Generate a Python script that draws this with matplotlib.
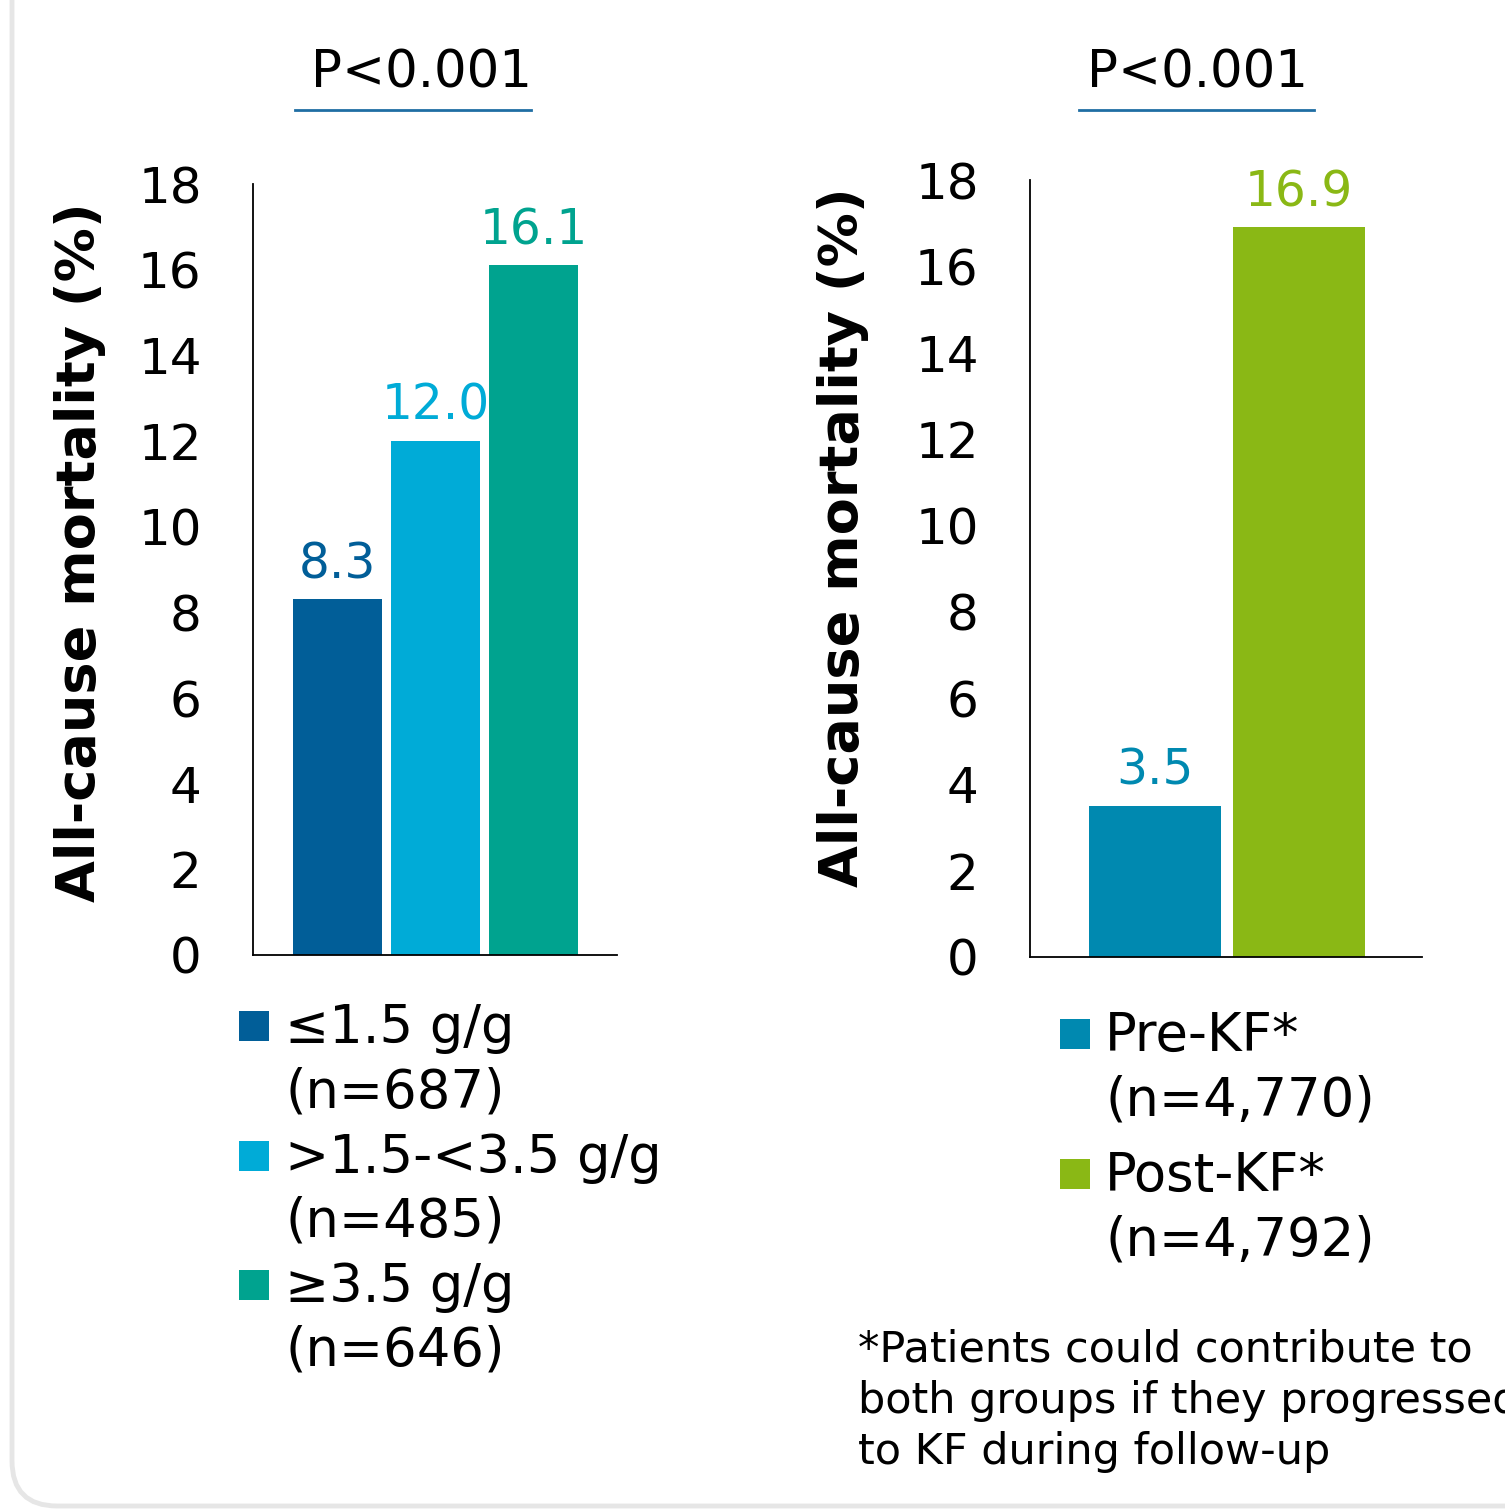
import matplotlib
matplotlib.use("Agg")
import matplotlib.pyplot as plt
from matplotlib.patches import FancyBboxPatch, Rectangle
from matplotlib.lines import Line2D

plt.rcParams['font.family'] = ['DejaVu Sans']

# --- data ---------------------------------------------------------------
upcr_labels = ["≤1.5 g/g\n(n=687)", ">1.5-<3.5 g/g\n(n=485)", "≥3.5 g/g\n(n=646)"]
upcr_values = [8.3, 12.0, 16.1]
upcr_colors = ["#015e98", "#00abd7", "#00a38f"]

kf_labels = ["Pre-KF*\n(n=4,770)", "Post-KF*\n(n=4,792)"]
kf_values = [3.5, 16.9]
kf_colors = ["#0089b0", "#8ab815"]

p_texts = ["P<0.001", "P<0.001"]
y_ticks = [0, 2, 4, 6, 8, 10, 12, 14, 16, 18]
y_label = "All-cause mortality (%)"
footnote = "*Patients could contribute to\nboth groups if they progressed\nto KF during follow-up"

W, H = 1505, 1510
fig = plt.figure(figsize=(W / 100, H / 100), dpi=100)
fig.patch.set_facecolor("white")


def fx(px):
    return px / W


def fy(py):
    return 1 - py / H


# rounded card behind the panels
card = FancyBboxPatch((fx(12), fy(1506)), 1.2, 1.2,
                      boxstyle="round,pad=0,rounding_size=0.03",
                      transform=fig.transFigure, facecolor="white",
                      edgecolor="#e6e6e6", linewidth=3.5, zorder=-10)
fig.patches.append(card)


def make_axes(x0, x1, ytop, ybot):
    ax = fig.add_axes([fx(x0), fy(ybot), fx(x1) - fx(x0), fy(ytop) - fy(ybot)])
    ax.set_zorder(2)
    ax.set_facecolor("none")
    for s in ("top", "right"):
        ax.spines[s].set_visible(False)
    for s in ("left", "bottom"):
        ax.spines[s].set_linewidth(1.3)
        ax.spines[s].set_color("black")
    ax.set_ylim(0, 18)
    ax.set_yticks(y_ticks)
    ax.set_yticklabels([str(t) for t in y_ticks], fontsize=36)
    ax.tick_params(axis="y", length=0, pad=37)
    ax.set_xticks([])
    return ax


def draw_bars(ax, values, colors, width):
    xs = list(range(len(values)))
    ax.bar(xs, values, width=width, color=colors, zorder=2)
    for x, v, c in zip(xs, values, colors):
        ax.annotate(f"{v:.1f}", (x, v), xytext=(0, 8), textcoords="offset points",
                    ha="center", va="bottom", fontsize=35, color=c)


# left panel: proteinuria categories
ax1 = make_axes(253, 617, 184, 955)
draw_bars(ax1, upcr_values, upcr_colors, 0.908)
ax1.set_xlim(-0.862, 2.852)

# right panel: before / after kidney failure
ax2 = make_axes(1030, 1422, 180, 957)
draw_bars(ax2, kf_values, kf_colors, 0.917)
ax2.set_xlim(-0.868, 1.854)

# y-axis titles
fig.text(fx(80), fy(552), y_label, rotation=90, ha="center", va="center",
         fontsize=39, fontweight="bold")
fig.text(fx(843), fy(537), y_label, rotation=90, ha="center", va="center",
         fontsize=39, fontweight="bold")

# P-value headers with underline
for txt, cx, (u0, u1) in zip(p_texts, [422, 1197], [(295, 531), (1079, 1314)]):
    fig.text(fx(cx), fy(73), txt, ha="center", va="center", fontsize=37)
    fig.add_artist(Line2D([fx(u0), fx(u1)], [fy(110), fy(110)],
                          transform=fig.transFigure, color="#1f6ea3", linewidth=2))


def draw_legend(labels, colors, sq_x, text_x, first_top, entry_step, line_step, sq=30):
    for i, (lab, col) in enumerate(zip(labels, colors)):
        top = first_top + i * entry_step
        fig.patches.append(Rectangle((fx(sq_x), fy(top + sq)), fx(sq), sq / H,
                                     transform=fig.transFigure, facecolor=col,
                                     edgecolor="none"))
        for j, line in enumerate(lab.split("\n")):
            fig.text(fx(text_x), fy(top + sq / 2 + 2 + j * line_step), line,
                     ha="left", va="center", fontsize=38)


draw_legend(upcr_labels, upcr_colors, 239, 285, 1011, 129.5, 64)
draw_legend(kf_labels, kf_colors, 1060, 1105, 1019, 140, 65)

# footnote
for j, line in enumerate(footnote.split("\n")):
    fig.text(fx(858), fy(1350 + j * 51), line, ha="left", va="center", fontsize=31)

fig.savefig("out.png", dpi=100, facecolor="white")
